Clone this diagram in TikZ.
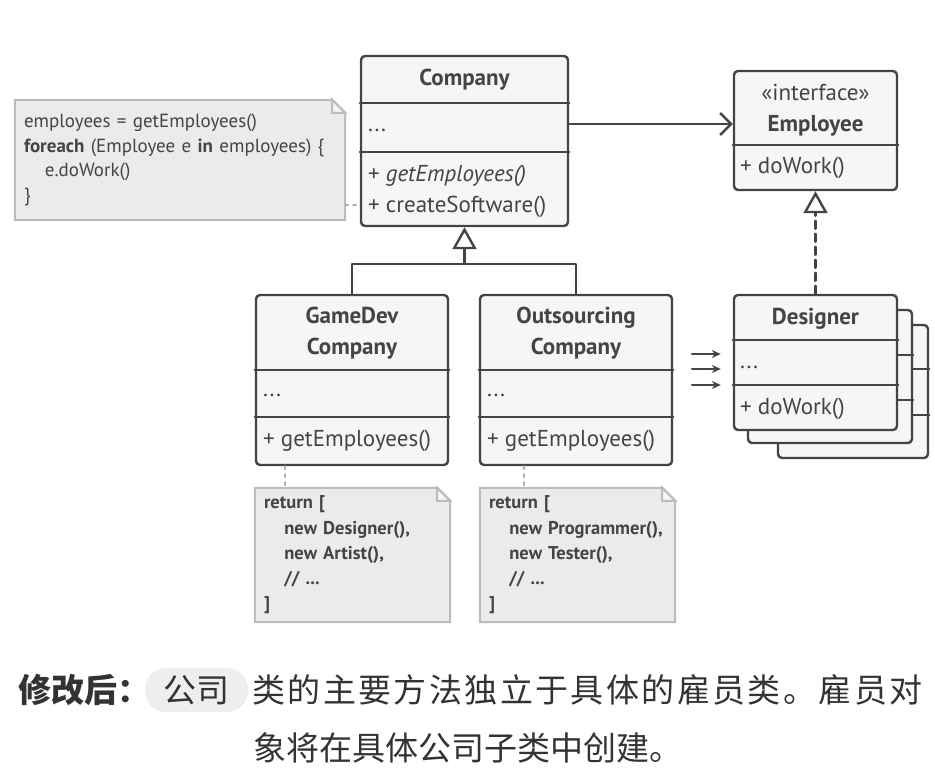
\documentclass[tikz,border=0pt]{standalone}
\usepackage{fontspec}
\setmainfont{PT Sans}
\newfontfamily\cjk{Noto Sans CJK SC}
\newfontfamily\cjkwide[LetterSpace=7.3]{Noto Sans CJK SC}
\usetikzlibrary{arrows.meta,positioning,backgrounds,calc}

\definecolor{umlline}{RGB}{68,68,68}
\definecolor{umlfill}{RGB}{246,246,246}
\definecolor{notefill}{RGB}{235,235,235}
\definecolor{noteline}{RGB}{188,188,188}
\definecolor{linkgray}{RGB}{175,175,175}
\definecolor{capfill}{RGB}{238,238,238}
\definecolor{captext}{RGB}{51,51,51}

% dog-eared note outline round a named node
\newcommand{\dogear}[1]{%
  \filldraw[notecard] (#1.north west) -- ([xshift=-13pt]#1.north east)
    -- ([yshift=-13pt]#1.north east) -- (#1.south east) -- (#1.south west) -- cycle;
  \filldraw[notefold] ([xshift=-13pt]#1.north east)
    -- ([xshift=-13pt,yshift=-13pt]#1.north east) -- ([yshift=-13pt]#1.north east) -- cycle;}

\begin{document}
\begin{tikzpicture}[x=1pt, y=-1pt, >=Stealth, line cap=round, line join=round,
  classbox/.style={draw=umlline, fill=umlfill, line width=2.4pt, rounded corners=4pt, inner sep=0pt},
  divider/.style={draw=umlline, line width=2.4pt},
  title/.style={font=\fontsize{23}{31}\selectfont\bfseries, text=umlline, align=center, inner sep=0pt},
  member/.style={font=\fontsize{23}{26}\selectfont, text=umlline, anchor=west, inner sep=0pt},
  note/.style={text=umlline, align=left, inner xsep=9pt, inner ysep=0pt},
  notecard/.style={fill=notefill, draw=noteline, line width=2pt, line join=miter},
  notefold/.style={fill=umlfill, draw=noteline, line width=2pt, line join=miter},
  notelink/.style={draw=linkgray, line width=2pt, dash pattern=on 3pt off 5pt},
  inherit/.style={draw=umlline, line width=2.4pt, -{Triangle[open, length=22pt, width=24pt, fill=white]}},
  realize/.style={inherit, dash pattern=on 8pt off 5pt},
  assoc/.style={draw=umlline, line width=2.4pt, -{Straight Barb[length=11pt, width=22pt, line width=2.4pt]}},
  flow/.style={draw=umlline, line width=2pt, -{Stealth[length=9pt, width=8pt]}}]

\useasboundingbox (0,0) rectangle (935,776);

% --- Company ---
\node[classbox, minimum width=207, minimum height=170] (company) at (464.5,141) {};
\draw[divider] (company.west |- 0,103) -- (company.east |- 0,103);
\draw[divider] (company.west |- 0,152) -- (company.east |- 0,152);
\node[title] (companytitle) at (464.5,80) {Company};
\node[member] (companyfields) at (368,130) {...};
\node[member] (companyget) at (368,176) {+ \textit{getEmployees()}};
\node[member] (companycreate) at (368,207) {+ createSoftware()};

% --- Employee interface ---
\node[classbox, minimum width=163, minimum height=119] (employee) at (815.5,130.5) {};
\draw[divider] (employee.west |- 0,145) -- (employee.east |- 0,145);
\node[title] (employeetitle) at (815.5,110.5) {\mdseries«interface»\\Employee};
\node[member] (employeework) at (740,168) {+ doWork()};

% --- Designer stack ---
\node[classbox, minimum width=150, minimum height=133] (designerback) at (853,391.5) {};
\draw[divider] (designerback.west |- 0,369) -- (designerback.east |- 0,369);
\draw[divider] (designerback.west |- 0,415) -- (designerback.east |- 0,415);
\node[classbox, minimum width=164, minimum height=133] (designermid) at (830,376.5) {};
\draw[divider] (designermid.west |- 0,355) -- (designermid.east |- 0,355);
\draw[divider] (designermid.west |- 0,400) -- (designermid.east |- 0,400);
\node[classbox, minimum width=163, minimum height=135] (designer) at (815.5,362.5) {};
\draw[divider] (designer.west |- 0,340) -- (designer.east |- 0,340);
\draw[divider] (designer.west |- 0,385) -- (designer.east |- 0,385);
\node[title] (designertitle) at (815.5,319) {Designer};
\node[member] (designerfields) at (740,367) {...};
\node[member] (designerwork) at (740,409) {+ doWork()};

% --- Subclasses ---
\node[classbox, minimum width=192, minimum height=170] (gamedev) at (352,380) {};
\draw[divider] (gamedev.west |- 0,370) -- (gamedev.east |- 0,370);
\draw[divider] (gamedev.west |- 0,417) -- (gamedev.east |- 0,417);
\node[title] (gamedevtitle) at (352,333.5) {GameDev\\Company};
\node[member] (gamedevfields) at (263,395) {...};
\node[member] (gamedevget) at (263,441) {+ getEmployees()};

\node[classbox, minimum width=192, minimum height=170] (outsourcing) at (576,380) {};
\draw[divider] (outsourcing.west |- 0,370) -- (outsourcing.east |- 0,370);
\draw[divider] (outsourcing.west |- 0,417) -- (outsourcing.east |- 0,417);
\node[title] (outsourcingtitle) at (576,333.5) {Outsourcing\\Company};
\node[member] (outsourcingfields) at (487,395) {...};
\node[member] (outsourcingget) at (487,441) {+ getEmployees()};

% --- Notes ---
\node[note, font=\fontsize{19}{24.5}\selectfont, minimum width=330, minimum height=120, text width=312]
  (basenote) at (180,160)
  {employees = getEmployees()\\
   \textbf{foreach} (Employee e \textbf{in} employees) \{\\
   \hspace*{1.1em}e.doWork()\\
   \}};
\node[note, font=\fontsize{18.5}{25.3}\selectfont\bfseries, minimum width=195, minimum height=134, text width=177]
  (gamedevnote) at (352.5,555)
  {return [\\
   \hspace*{1.1em}new Designer(),\\
   \hspace*{1.1em}new Artist(),\\
   \hspace*{1.1em}// ...\\
   ]};
\node[note, font=\fontsize{18.5}{25.3}\selectfont\bfseries, minimum width=195, minimum height=134, text width=177]
  (outsourcingnote) at (577.5,555)
  {return [\\
   \hspace*{1.1em}new Programmer(),\\
   \hspace*{1.1em}new Tester(),\\
   \hspace*{1.1em}// ...\\
   ]};
\begin{scope}[on background layer]
  \dogear{basenote}
  \dogear{gamedevnote}
  \dogear{outsourcingnote}
\end{scope}

% --- Connectors ---
\draw[assoc] (company.east |- 0,124) -- (employee.west |- 0,124);
\coordinate (fork) at (464.5,264);
\draw[inherit] (gamedev.north) |- (fork) -- (company.south);
\draw[divider] (outsourcing.north) |- (fork);
\draw[realize] (designer.north) -- (employee.south);
\foreach \dy in {8.5,-6.5,-22.5}
  \draw[flow] ([xshift=-41pt, yshift=\dy pt]designer.west) -- ++(29,0);
\draw[notelink] (basenote.east |- 0,205) -- (company.west |- 0,205);
\draw[notelink] (gamedev.south -| 285,0) -- (gamedevnote.north -| 285,0);
\draw[notelink] (outsourcing.south -| 524,0) -- (outsourcingnote.north -| 524,0);

% --- Caption ---
\node[anchor=west, inner sep=0pt, text=captext, font=\cjk\fontsize{33}{40}\selectfont\bfseries]
  (caphead) at (18,690) {修改后：};
\node[fill=capfill, rounded corners=21pt, minimum width=103, minimum height=44, inner sep=0pt,
  text=captext, font=\cjk\fontsize{33}{40}\selectfont] (capterm) at (196.5,690) {公司};
\node[anchor=west, inner sep=0pt, text=captext, font=\cjkwide\fontsize{33}{40}\selectfont]
  (caprest) at (252,690) {类的主要方法独立于具体的雇员类。雇员对};
\node[inner sep=0pt, text=captext, font=\cjk\fontsize{33}{40}\selectfont]
  (capline) at (467.5,748) {象将在具体公司子类中创建。};

\end{tikzpicture}
\end{document}
